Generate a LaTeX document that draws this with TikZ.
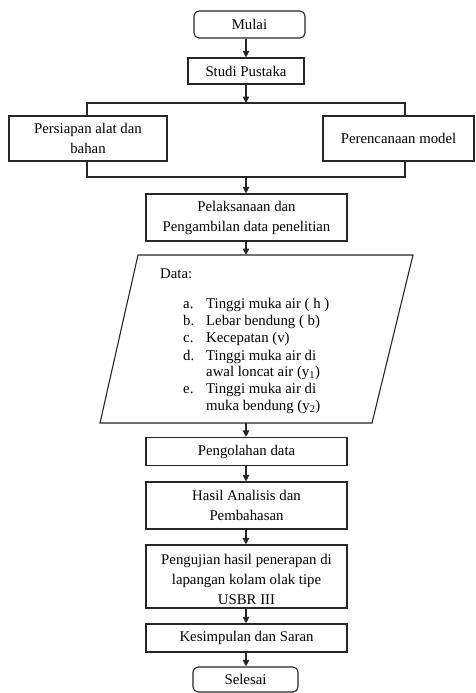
\documentclass[tikz,border=0pt]{standalone}
\usepackage{fontspec}
\setmainfont{Liberation Serif}
\usetikzlibrary{arrows.meta}
\begin{document}
\begin{tikzpicture}[x=1pt,y=-1pt,
  every node/.style={font=\fontsize{14.8}{20}\selectfont, inner sep=0pt, align=center},
  box/.style={draw=black!85, line width=1.1pt},
  term/.style={box, rounded corners=5pt},
  ln/.style={draw=black!85, line width=1.1pt},
  arr/.style={ln, -{Triangle[length=6.5pt,width=6.5pt]}},
  item/.style={anchor=base west, font=\fontsize{14.8}{17}\selectfont}]
\useasboundingbox (0,0) rectangle (475,693);
% boxes
\node[term, minimum width=111pt, minimum height=27pt] (mulai) at (249.5,24.5) {Mulai};
\node[box, minimum width=116pt, minimum height=26pt] (studi) at (246,71) {Studi Pustaka};
\node[box, minimum width=158pt, minimum height=45pt] (persiapan) at (88,138.5) {Persiapan alat dan\\bahan};
\node[box, minimum width=151pt, minimum height=45pt] (rencana) at (398.5,138.5) {Perencanaan model};
\node[box, minimum width=201pt, minimum height=47pt] (laksana) at (246.5,217.5) {Pelaksanaan dan\\Pengambilan data penelitian};
\node[box, minimum width=201pt, minimum height=28pt] (olah) at (246.5,451.5) {Pengolahan data};
\node[box, minimum width=201pt, minimum height=47pt] (hasil) at (246.5,505.5) {Hasil Analisis dan\\Pembahasan};
\node[box, minimum width=201pt, minimum height=63pt] (uji) at (246.5,576.5) {};
\node (ujitext) at (246.5,579.5) {Pengujian hasil penerapan di\\lapangan kolam olak tipe\\USBR III};
\node[box, minimum width=201pt, minimum height=28pt] (simpul) at (246.5,638) {Kesimpulan dan Saran};
\node[term, minimum width=105pt, minimum height=25pt] (selesai) at (245.5,679.5) {Selesai};
% data parallelogram
\coordinate (dtl) at (138,255);
\coordinate (dtr) at (413,255);
\coordinate (dbr) at (372,423);
\coordinate (dbl) at (100,423);
\draw[ln] (dtl) -- (dtr) -- (dbr) -- (dbl) -- cycle;
\coordinate (dtop) at (246,255);
\coordinate (dbot) at (246,423);
\node[anchor=base west] (datalbl) at (160,278) {Data:};
\node[item] (la) at (183,308) {a.};
\node[item] (ta) at (206,308) {Tinggi muka air ( h )};
\node[item] (lb) at (183,325) {b.};
\node[item] (tb) at (206,325) {Lebar bendung ( b)};
\node[item] (lc) at (183,342) {c.};
\node[item] (tc) at (206,342) {Kecepatan (v)};
\node[item] (ld) at (183,360) {d.};
\node[item] (td) at (206,360) {Tinggi muka air di};
\node[item] (td2) at (206,376) {awal loncat air (y\textsubscript{1})};
\node[item] (le) at (183,393) {e.};
\node[item] (te) at (206,393) {Tinggi muka air di};
\node[item] (te2) at (206,410) {muka bendung (y\textsubscript{2})};
% connectors
\coordinate (splitT) at (246,103);
\coordinate (tl) at (87,103);
\coordinate (tr) at (405,103);
\coordinate (bl) at (87,177);
\coordinate (br) at (405,177);
\coordinate (joinB) at (246,177);
\draw[arr] (mulai.south -| studi) -- (studi.north);
\draw[arr] (studi.south) -- (splitT);
\draw[ln] (tl |- persiapan.north) -- (tl) -- (tr) -- (tr |- rencana.north);
\draw[ln] (bl |- persiapan.south) -- (bl) -- (br) -- (br |- rencana.south);
\draw[arr] (joinB) -- (joinB |- laksana.north);
\draw[arr] (laksana.south -| dtop) -- (dtop);
\draw[arr] (dbot) -- (dbot |- olah.north);
\draw[arr] (olah.south -| dbot) -- (dbot |- hasil.north);
\draw[arr] (hasil.south -| dbot) -- (dbot |- uji.north);
\draw[arr] (uji.south -| dbot) -- (dbot |- simpul.north);
\draw[arr] (simpul.south -| dbot) -- (dbot |- selesai.north);
\end{tikzpicture}
\end{document}
